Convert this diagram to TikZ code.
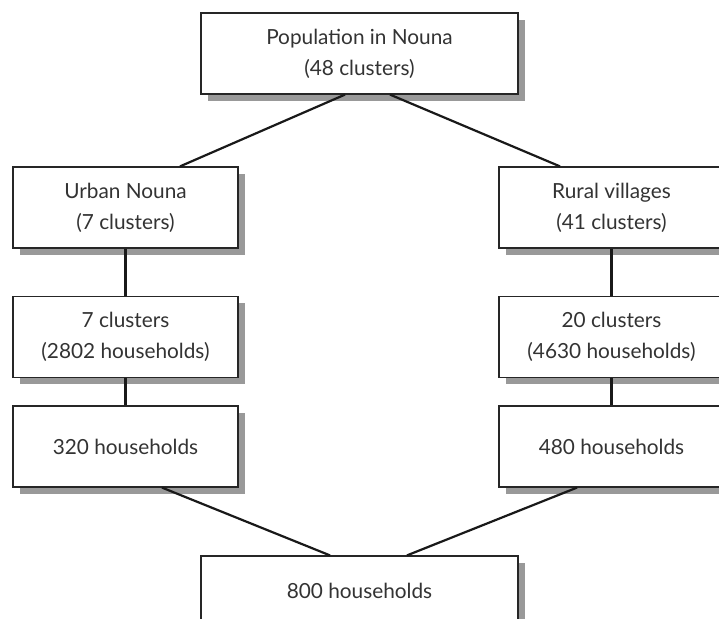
\documentclass[tikz,border=0pt]{standalone}
\usepackage{fontspec}
\setmainfont{Lato}
\usetikzlibrary{calc,shadows}
\definecolor{TextClr}{rgb}{0.2,0.2,0.2}
\definecolor{ShadowClr}{rgb}{0.6,0.6,0.6}

\begin{document}
\begin{tikzpicture}[x=0.5pt,y=-0.5pt,
  box/.style={draw=black!85,line width=0.6pt,fill=white,text=TextClr,
    minimum width=112.5pt,minimum height=40.5pt,inner sep=0pt,align=center,
    font=\fontsize{10.4}{15.5}\selectfont,
    drop shadow={shadow xshift=3.5pt,shadow yshift=-3.5pt,fill=ShadowClr,opacity=1}},
  wide/.style={box,minimum width=158.5pt},
  link/.style={line width=1.1pt,black!90}]
\useasboundingbox (0,0) rectangle (719,619);

% boxes
\node[wide] (top) at (359.5,53.5) {Population in Nouna\\(48 clusters)};
\node[box] (urban) at (125.5,207.5) {Urban Nouna\\(7 clusters)};
\node[box] (rural) at (611.5,207.5) {Rural villages\\(41 clusters)};
\node[box] (ucl) at (125.5,337) {7 clusters\\(2802 households)};
\node[box] (rcl) at (611.5,337) {20 clusters\\(4630 households)};
\node[box] (uhh) at (125.5,446.5) {320 households};
\node[box] (rhh) at (611.5,446.5) {480 households};
\node[wide,minimum height=35pt] (total) at (359.5,591) {800 households};

% links
\draw[link] ($(top.south)+(-14.5,0)$) -- ($(urban.north)+(54.5,0)$);
\draw[link] ($(top.south)+(30.5,0)$) -- ($(rural.north)+(-51.5,0)$);
\draw[link] (urban) -- (ucl) (ucl) -- (uhh);
\draw[link] (rural) -- (rcl) (rcl) -- (rhh);
\draw[link] ($(uhh.south)+(36.5,0)$) -- ($(total.north)+(-29.5,0)$);
\draw[link] ($(rhh.south)+(-34.5,0)$) -- ($(total.north)+(47.5,0)$);

\end{tikzpicture}
\end{document}
